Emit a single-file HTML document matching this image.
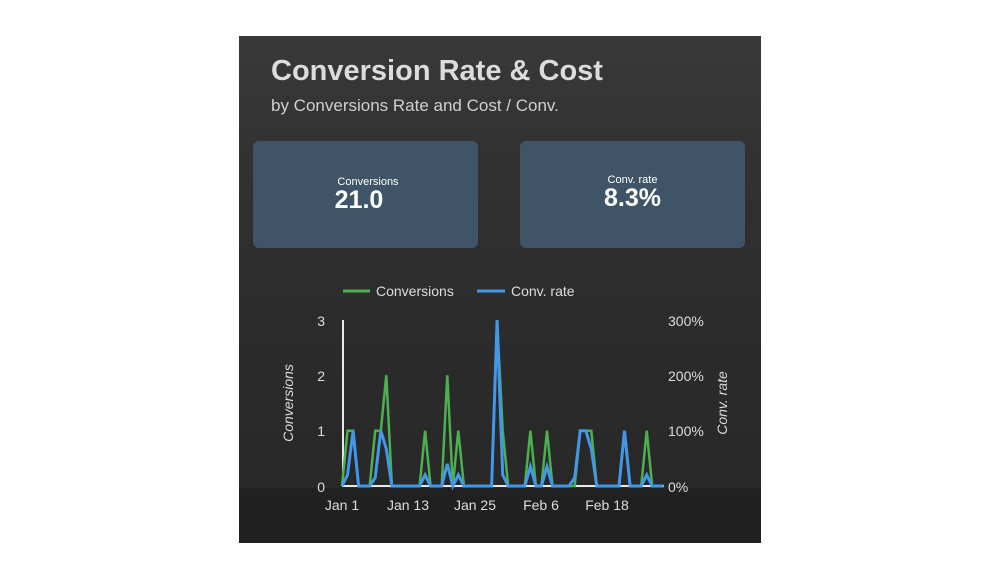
<!DOCTYPE html>
<html><head><meta charset="utf-8"><style>
html,body{margin:0;padding:0;background:#fff;width:1000px;height:572px;overflow:hidden}
#card{position:absolute;left:239px;top:36px;width:522px;height:507px;
background:linear-gradient(#393939 0px,#333 100px,#2e2e2e 226px,#2c2c2c 277px,#2a2a2a 364px,#282828 452px,#212121 452px,#1f1f1f 507px)}
.t{position:absolute;font-family:"Liberation Sans",sans-serif}
.kpi{position:absolute;top:105px;width:225px;height:107px;background:#3f5567;border-radius:6px;color:#fff;text-align:center}
</style></head><body>
<div id="card">
<div class="t" style="left:32px;top:19px;font-size:29px;font-weight:bold;color:#dcdcdc">Conversion Rate &amp; Cost</div>
<div class="t" style="left:32px;top:60px;font-size:17px;color:#d0d0d0">by Conversions Rate and Cost / Conv.</div>
<div class="kpi" style="left:14px"><div class="t" style="left:0;width:230px;top:35px;font-size:11px">Conversions</div><div class="t" style="left:0;width:212px;top:45px;font-size:25px;font-weight:bold">21.0</div></div>
<div class="kpi" style="left:281px"><div class="t" style="left:0;width:225px;top:33px;font-size:11px">Conv. rate</div><div class="t" style="left:0;width:225px;top:43px;font-size:25px;font-weight:bold">8.3%</div></div>
</div>
<svg width="1000" height="572" style="position:absolute;left:0;top:0" font-family="Liberation Sans, sans-serif">
<line x1="343" y1="291" x2="370" y2="291" stroke="#4caf50" stroke-width="3"/>
<text x="376" y="296" fill="#ddd" font-size="14">Conversions</text>
<line x1="477" y1="291" x2="505" y2="291" stroke="#4297e8" stroke-width="3"/>
<text x="511" y="296" fill="#ddd" font-size="14">Conv. rate</text>
<g fill="#ddd" font-size="14" text-anchor="end">
<text x="325" y="326">3</text><text x="325" y="381">2</text><text x="325" y="436">1</text><text x="325" y="492">0</text></g>
<g fill="#ddd" font-size="14">
<text x="668" y="326">300%</text><text x="668" y="381">200%</text><text x="668" y="436">100%</text><text x="668" y="492">0%</text></g>
<g fill="#ddd" font-size="14" text-anchor="middle">
<text x="342" y="510">Jan 1</text><text x="408" y="510">Jan 13</text><text x="475" y="510">Jan 25</text><text x="541" y="510">Feb 6</text><text x="607" y="510">Feb 18</text></g>
<text transform="translate(293,403) rotate(-90)" fill="#ddd" font-size="14" font-style="italic" text-anchor="middle">Conversions</text>
<text transform="translate(727,403) rotate(-90)" fill="#ddd" font-size="14" font-style="italic" text-anchor="middle">Conv. rate</text>
<line x1="342" y1="486" x2="664" y2="486" stroke="#e8e8e8" stroke-width="2"/>
<line x1="343" y1="320" x2="343" y2="486" stroke="#e8e8e8" stroke-width="2"/>
<polyline id="g" fill="none" stroke="#4caf50" stroke-width="2.5" stroke-linejoin="miter"/>
<polyline id="b" fill="none" stroke="#4297e8" stroke-width="3" stroke-linejoin="miter"/>
</svg>
<script>
function pts(m){var a=[];for(var d=0;d<=58;d++){var v=m[d]||0;a.push((342+d*5.54).toFixed(1)+","+(486-v*55.33).toFixed(1));}return a.join(" ");}
var g={1:1,2:1,6:1,7:1,8:2,15:1,19:2,21:1,28:3,29:1,34:1,37:1,43:1,44:1,45:1,51:1,55:1};
var b={1:0.2,2:1,6:0.15,7:1,8:0.67,15:0.2,19:0.4,21:0.2,28:3,29:0.2,34:0.35,37:0.35,42:0.15,43:1,44:1,45:0.67,51:1,55:0.2};
document.getElementById('g').setAttribute('points',pts(g));
document.getElementById('b').setAttribute('points',pts(b));
</script>
</body></html>
